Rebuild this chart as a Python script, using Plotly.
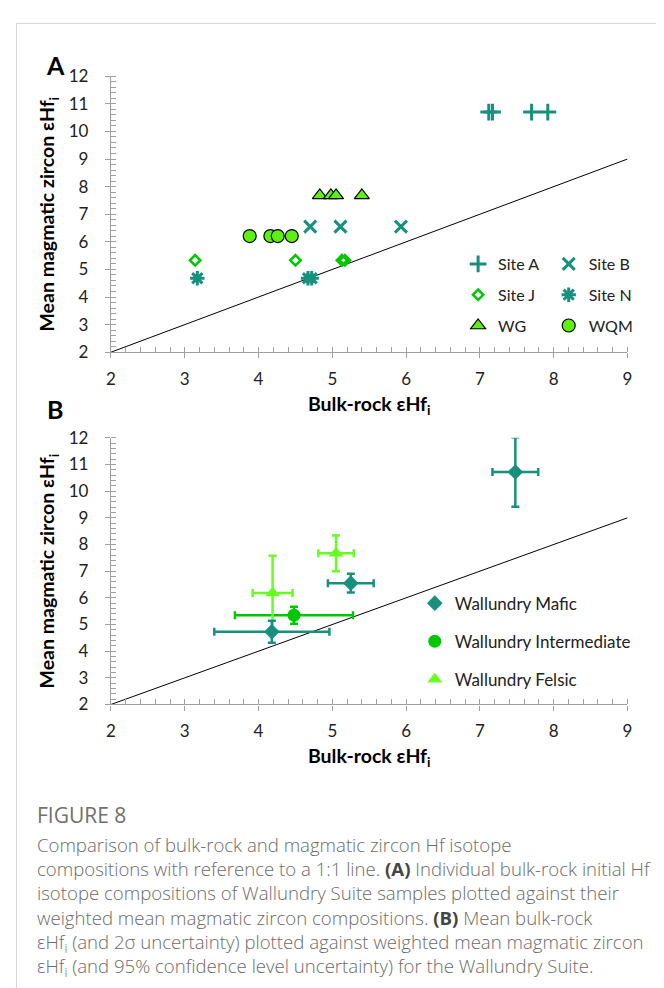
import plotly.graph_objects as go

# ---------------- data ----------------
# Panel A: individual samples (bulk-rock eHf_i vs mean magmatic zircon eHf_i)
site_a_x = [7.12, 7.17, 7.70, 7.92]
site_a_y = [10.70, 10.70, 10.70, 10.70]
site_b_x = [4.70, 5.11, 5.93]
site_b_y = [6.55, 6.55, 6.55]
site_j_x = [3.14, 4.50, 5.13, 5.17]
site_j_y = [5.33, 5.33, 5.33, 5.33]
site_n_x = [3.17, 4.67, 4.72]
site_n_y = [4.68, 4.68, 4.68]
wg_x = [4.83, 4.98, 5.05, 5.40]
wg_y = [7.68, 7.68, 7.68, 7.68]
wqm_x = [3.88, 4.16, 4.26, 4.45]
wqm_y = [6.21, 6.21, 6.21, 6.21]

# Panel B: suite means with uncertainties
mafic_x = [7.48, 5.25, 4.18]
mafic_y = [10.72, 6.55, 4.73]
mafic_xerr = [0.31, 0.31, 0.78]
mafic_yerr = [1.30, 0.35, 0.41]
inter_x = [4.48]
inter_y = [5.35]
inter_xerr = [0.80]
inter_yerr = [0.32]
felsic_x = [4.19, 5.05]
felsic_y = [6.18, 7.67]
felsic_xerr = [0.27, 0.24]
felsic_yerr = [1.40, 0.67]

one_to_one = [2, 9]

TEAL = "#17917e"
GREEN = "#00c800"
LIME = "#5ef00f"
LIME2 = "#66ff22"
FONT = "Lato"

# page body has an 8px default margin: size the figure to fill the window exactly
OFF = 8
W, H = 664 - OFF, 988 - OFF
def px_x(p):
    return (p - OFF) / W
def px_y(p):
    return 1 - (p - OFF) / H

fig = go.Figure()

# ---- Panel A ----
fig.add_trace(go.Scatter(x=one_to_one, y=one_to_one, mode="lines",
                         line=dict(color="black", width=1), showlegend=False,
                         hoverinfo="skip", xaxis="x", yaxis="y"))
fig.add_trace(go.Scatter(x=site_a_x, y=site_a_y, mode="markers", name="Site A",
                         marker=dict(symbol="cross-thin-open", size=12, color=TEAL,
                                     line=dict(width=3, color=TEAL)),
                         legend="legend", legendgroup="a", xaxis="x", yaxis="y"))
fig.add_trace(go.Scatter(x=site_j_x, y=site_j_y, mode="markers", name="Site J",
                         marker=dict(symbol="diamond-open", size=8, color=GREEN,
                                     line=dict(width=2.5, color=GREEN)),
                         legend="legend", legendgroup="j", xaxis="x", yaxis="y"))
fig.add_trace(go.Scatter(x=wg_x, y=wg_y, mode="markers", name="WG",
                         marker=dict(symbol="triangle-up", size=13, color=LIME,
                                     line=dict(width=1.2, color="black")),
                         legend="legend", legendgroup="wg", xaxis="x", yaxis="y"))
fig.add_trace(go.Scatter(x=site_b_x, y=site_b_y, mode="markers", name="Site B",
                         marker=dict(symbol="x-thin-open", size=12, color=TEAL,
                                     line=dict(width=3, color=TEAL)),
                         legend="legend2", legendgroup="b", xaxis="x", yaxis="y"))
fig.add_trace(go.Scatter(x=site_n_x, y=site_n_y, mode="markers", name="Site N",
                         marker=dict(symbol="asterisk-open", size=12, color=TEAL,
                                     line=dict(width=3, color=TEAL)),
                         legend="legend2", legendgroup="n", xaxis="x", yaxis="y"))
fig.add_trace(go.Scatter(x=wqm_x, y=wqm_y, mode="markers", name="WQM",
                         marker=dict(symbol="circle", size=13, color=LIME,
                                     line=dict(width=1.2, color="black")),
                         legend="legend2", legendgroup="wqm", xaxis="x", yaxis="y"))

# ---- Panel B ----
fig.add_trace(go.Scatter(x=one_to_one, y=one_to_one, mode="lines",
                         line=dict(color="black", width=1), showlegend=False,
                         hoverinfo="skip", xaxis="x2", yaxis="y2"))
fig.add_trace(go.Scatter(x=inter_x, y=inter_y, mode="markers", name="Wallundry Intermediate",
                         marker=dict(symbol="circle", size=13, color=GREEN),
                         error_x=dict(type="data", array=inter_xerr, color=GREEN, thickness=2.5, width=4),
                         error_y=dict(type="data", array=inter_yerr, color=GREEN, thickness=2.5, width=4),
                         legend="legend3", legendgroup="int", legendrank=2, xaxis="x2", yaxis="y2"))
fig.add_trace(go.Scatter(x=felsic_x, y=felsic_y, mode="markers", name="Wallundry Felsic",
                         marker=dict(symbol="triangle-up", size=13, color=LIME2),
                         error_x=dict(type="data", array=felsic_xerr, color=LIME2, thickness=2.5, width=4),
                         error_y=dict(type="data", array=felsic_yerr, color=LIME2, thickness=2.5, width=4),
                         legend="legend3", legendgroup="fel", legendrank=3, xaxis="x2", yaxis="y2"))
fig.add_trace(go.Scatter(x=mafic_x, y=mafic_y, mode="markers", name="Wallundry Mafic",
                         marker=dict(symbol="diamond", size=12, color=TEAL),
                         error_x=dict(type="data", array=mafic_xerr, color=TEAL, thickness=2.5, width=4),
                         error_y=dict(type="data", array=mafic_yerr, color=TEAL, thickness=2.5, width=4),
                         legend="legend3", legendgroup="maf", legendrank=1, xaxis="x2", yaxis="y2"))

AXC = "#a0a0a0"
tickfont = dict(family=FONT, size=17, color="#222")
xtitle = "<b>Bulk-rock εHf<sub>i</sub></b>"
ytitle = "<b>Mean magmatic zircon εHf<sub>i</sub></b>"

def xaxis_cfg(anchor):
    return dict(range=[2, 9], dtick=1, tick0=2, showgrid=False, zeroline=False,
                showline=True, linecolor=AXC, linewidth=1.2,
                ticks="outside", ticklen=5, tickcolor=AXC, tickwidth=1.2,
                minor=dict(dtick=0.2, ticks="inside", ticklen=5, tickcolor=AXC, tickwidth=1),
                tickfont=tickfont, ticklabelstandoff=6,
                title=dict(text=xtitle, font=dict(family=FONT, size=19.5, color="black"), standoff=9),
                domain=[px_x(107.5), px_x(632)], anchor=anchor)

def yaxis_cfg(anchor, top, bot):
    return dict(range=[2, 12], dtick=1, tick0=2, showgrid=False, zeroline=False,
                showline=True, linecolor=AXC, linewidth=1.2,
                ticks="outside", ticklen=5, tickcolor=AXC, tickwidth=1.2,
                minor=dict(dtick=0.2, ticks="inside", ticklen=5, tickcolor=AXC, tickwidth=1),
                tickfont=tickfont, ticklabelstandoff=13,
                title=dict(text=ytitle, font=dict(family=FONT, size=19.5, color="black"), standoff=8),
                domain=[px_y(bot), px_y(top)], anchor=anchor)

legfont = dict(family=FONT, size=16, color="#222")
fig.update_layout(
    width=W, height=H,
    margin=dict(l=0, r=0, t=0, b=0),
    paper_bgcolor="white", plot_bgcolor="white",
    font=dict(family=FONT),
    xaxis=xaxis_cfg("y"),
    yaxis=yaxis_cfg("x", 66.5, 348.5),
    xaxis2=xaxis_cfg("y2"),
    yaxis2=yaxis_cfg("x2", 436, 708.5),
    legend=dict(x=px_x(460), y=px_y(241), xanchor="left", yanchor="top",
                bgcolor="rgba(0,0,0,0)", font=legfont, tracegroupgap=7,
                itemwidth=30),
    legend2=dict(x=px_x(552), y=px_y(241), xanchor="left", yanchor="top",
                 bgcolor="rgba(0,0,0,0)", font=legfont, tracegroupgap=7,
                 itemwidth=30),
    legend3=dict(x=px_x(416), y=px_y(587), xanchor="left", yanchor="top",
                 bgcolor="rgba(0,0,0,0)", font=dict(family=FONT, size=17, color="#222"),
                 tracegroupgap=13, itemwidth=30),
    showlegend=True,
)

# frame
fig.add_shape(type="rect", xref="paper", yref="paper",
              x0=px_x(11.5), x1=1.02, y0=-0.02, y1=px_y(12.5),
              line=dict(color="#d4d4d4", width=1), layer="below")

# panel letters
fig.add_annotation(text="<b>A</b>", x=px_x(51), y=px_y(55), xref="paper", yref="paper",
                   xanchor="center", yanchor="middle", showarrow=False,
                   font=dict(family=FONT, size=25, color="black"))
fig.add_annotation(text="<b>B</b>", x=px_x(51), y=px_y(407), xref="paper", yref="paper",
                   xanchor="center", yanchor="middle", showarrow=False,
                   font=dict(family=FONT, size=25, color="black"))

# caption
CAP = "#6b6b6b"
fig.add_annotation(text="FIGURE 8", x=px_x(30), y=px_y(821), xref="paper", yref="paper",
                   xanchor="left", yanchor="middle", showarrow=False,
                   font=dict(family="Open Sans", size=21, color="#707070"))
cap_lines = [
    "Comparison of bulk-rock and magmatic zircon Hf isotope",
    "compositions with reference to a 1:1 line. <b style='color:#444'>(A)</b> Individual bulk-rock initial Hf",
    "isotope compositions of Wallundry Suite samples plotted against their",
    "weighted mean magmatic zircon compositions. <b style='color:#444'>(B)</b> Mean bulk-rock",
    "εHf<sub>i</sub> (and 2σ uncertainty) plotted against weighted mean magmatic zircon",
    "εHf<sub>i</sub> (and 95% confidence level uncertainty) for the Wallundry Suite.",
]
fig.add_annotation(text="<br>".join(cap_lines), x=px_x(30), y=px_y(837), xref="paper", yref="paper",
                   xanchor="left", yanchor="top", align="left", showarrow=False,
                   font=dict(family="Open Sans", size=18.6, color=CAP, weight=300))

fig.write_html("out.html")
